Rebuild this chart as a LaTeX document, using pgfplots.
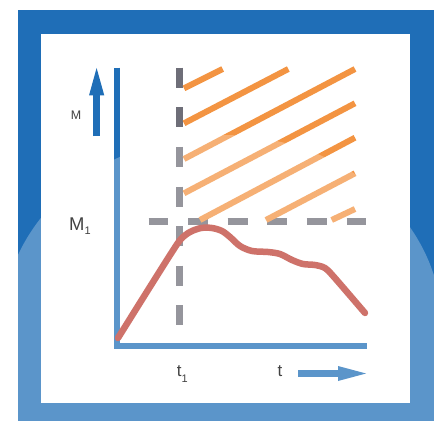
\documentclass[border=0pt]{standalone}
\usepackage{fontspec}
\setmainfont{Liberation Sans}
\usepackage{pgfplots}
\pgfplotsset{compat=1.18}

\definecolor{frameblue}{RGB}{31,110,183}
\definecolor{dashgray}{RGB}{110,110,120}
\definecolor{hatch}{RGB}{243,148,66}
\definecolor{curvered}{RGB}{189,63,51}
\definecolor{labelgray}{RGB}{66,66,66}

\begin{document}
\begin{tikzpicture}
\path[use as bounding box] (0,0) rectangle (440bp,421bp);
\begin{axis}[
  at={(0,0)}, anchor=south west,
  width=440bp, height=421bp, scale only axis,
  xmin=0, xmax=440, ymin=0, ymax=421,
  y dir=reverse,
  hide axis, clip=true,
  every axis plot/.append style={line cap=butt, line join=round},
]
% frame
\fill[frameblue] (axis cs:18,10) rectangle (axis cs:434,421);
\fill[white] (axis cs:41,34) rectangle (axis cs:410,403);

% axes of the icon
\addplot[frameblue, line width=6bp] coordinates {(117,67.7) (117,349)};
\addplot[frameblue, line width=6bp] coordinates {(114,346) (367,346)};

% dashed guides at t1 and M1
\addplot[dashgray, line width=6.5bp, dash pattern=on 20bp off 19.6bp]
  coordinates {(179.3,67.7) (179.3,326)};
\addplot[dashgray, line width=6.5bp, dash pattern=on 19.8bp off 19.8bp]
  coordinates {(148.5,221.7) (367,221.7)};

% hatching
\addplot[hatch, line width=6bp] coordinates {(184,88.3) (222.7,69)};
\addplot[hatch, line width=6bp] coordinates {(184,123.3) (288.3,69)};
\addplot[hatch, line width=6bp] coordinates {(184,159) (355,69)};
\addplot[hatch, line width=6bp] coordinates {(184,193.3) (355,103.3)};
\addplot[hatch, line width=6bp] coordinates {(200,220) (355,137.7)};
\addplot[hatch, line width=6bp] coordinates {(266,220) (355,173.3)};
\addplot[hatch, line width=6bp] coordinates {(331.7,220) (355,209)};

% M(t) curve
\addplot[curvered, line width=6.5bp, smooth, line cap=round] coordinates {
  (118,338) (148,290) (172,252) (181,239) (190,232) (201,228) (212,228)
  (222,231) (230,237) (240,246) (252,251) (268,252) (280,254) (292,260)
  (303,264) (315,265) (325,268) (334,277) (365,313)
};

% arrows
\addplot[frameblue, line width=7bp] coordinates {(96.6,136) (96.6,94)};
\fill[frameblue] (axis cs:89,95.5) -- (axis cs:104.3,95.5) -- (axis cs:96.6,68) -- cycle;
\addplot[frameblue, line width=6.5bp] coordinates {(298,373.3) (339,373.3)};
\fill[frameblue] (axis cs:338,366) -- (axis cs:338,381) -- (axis cs:366,373.5) -- cycle;

% light glare over the lower part
\fill[white, opacity=0.27] (axis cs:2,327)
  arc[start angle=180, end angle=0, x radius=220bp, y radius=192bp]
  -- (axis cs:442,430) -- (axis cs:2,430) -- cycle;

% labels
\node[anchor=base, inner sep=0pt, text=labelgray, font=\fontsize{12.5}{14}\selectfont]
  at (axis cs:76,119.3) {M};
\node[anchor=base west, inner sep=0pt, text=labelgray, font=\fontsize{18.5}{20}\selectfont]
  at (axis cs:69,230.3) {M\raisebox{-4bp}{\fontsize{11}{12}\selectfont 1}};
\node[anchor=base west, inner sep=0pt, text=labelgray, font=\fontsize{17}{19}\selectfont]
  at (axis cs:176.8,376.7) {t\raisebox{-6bp}{\fontsize{11}{12}\selectfont 1}};
\node[anchor=base west, inner sep=0pt, text=labelgray, font=\fontsize{17}{19}\selectfont]
  at (axis cs:277.5,376.7) {t};
\end{axis}
\end{tikzpicture}
\end{document}
